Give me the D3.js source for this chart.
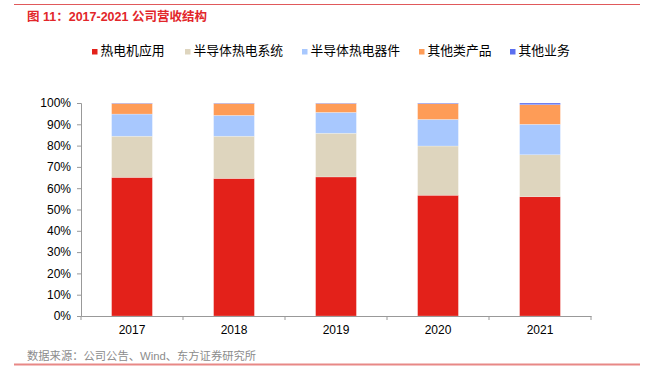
<!DOCTYPE html>
<html lang="zh">
<head>
<meta charset="UTF-8">
<title>2017-2021 公司营收结构</title>
<script src="https://cdn.jsdelivr.net/npm/d3@7/dist/d3.min.js"></script>
<style>
    body { margin: 0; background: #fff; }
    svg { display: block; font-family: "Liberation Sans", Arial, "Noto Sans CJK SC", sans-serif; }
</style>
</head>
<body>
<svg id="chart" width="647" height="374"></svg>
<script>
    // data (shares in %)
    const years = ["2017", "2018", "2019", "2020", "2021"];
    const seriesNames = ["热电机应用", "半导体热电系统", "半导体热电器件", "其他类产品", "其他业务"];
    const thermoMotor = [65.1, 64.6, 65.3, 56.7, 56.0];
    const semiSystem = [19.3, 19.8, 20.5, 23.1, 19.7];
    const semiDevice = [10.4, 9.8, 9.8, 12.5, 14.3];
    const otherProducts = [5.0, 5.6, 4.2, 7.4, 9.2];
    const otherBusiness = [0.2, 0.2, 0.2, 0.3, 0.8];
    const yTicks = [0, 10, 20, 30, 40, 50, 60, 70, 80, 90, 100];

    const colors = ["#e3211a", "#ded5be", "#a8c8fe", "#fe9c57", "#5b6ff0"];
    const allSeries = [thermoMotor, semiSystem, semiDevice, otherProducts, otherBusiness];

    const svg = d3.select("#chart");
    const plotLeft = 81, plotRight = 591, plotTop = 103, plotBottom = 316;

    // header / footer
    svg.append("line").attr("x1", 14).attr("x2", 640).attr("y1", 4.5).attr("y2", 4.5)
        .attr("stroke", "#e0595b").attr("stroke-width", 1);
    svg.append("text").attr("x", 27).attr("y", 20.5)
        .attr("fill", "#e2262a").attr("font-size", 12.5).attr("font-weight", "bold")
        .text("图 11：2017-2021 公司营收结构");
    svg.append("text").attr("x", 27).attr("y", 360)
        .attr("fill", "#8c8c8c").attr("font-size", 11.3)
        .text("数据来源：公司公告、Wind、东方证券研究所");
    svg.append("line").attr("x1", 14).attr("x2", 640).attr("y1", 364.5).attr("y2", 364.5)
        .attr("stroke", "#e88886").attr("stroke-width", 2);

    const rows = years.map((yr, i) => {
        const r = { year: yr };
        seriesNames.forEach((n, j) => r[n] = allSeries[j][i]);
        return r;
    });
    const stacked = d3.stack().keys(seriesNames)(rows);

    const x = d3.scaleBand().domain(years).range([plotLeft, plotRight]).paddingInner(0.6).paddingOuter(0.3);
    const y = d3.scaleLinear().domain([0, 100]).range([plotBottom, plotTop]);

    svg.append("g").selectAll("g")
        .data(stacked)
        .enter().append("g")
        .attr("fill", (d, i) => colors[i])
        .selectAll("rect")
        .data(d => d)
        .enter().append("rect")
        .attr("x", d => x(d.data.year))
        .attr("width", x.bandwidth())
        .attr("y", d => y(d[1]))
        .attr("height", d => y(d[0]) - y(d[1]))
        .attr("stroke", "#fff").attr("stroke-opacity", 0.4).attr("stroke-width", 0.6);

    // y axis
    const yAxis = svg.append("g").attr("transform", `translate(${plotLeft},0)`)
        .call(d3.axisLeft(y).tickValues(yTicks).tickFormat(d => d + "%").tickSize(4).tickPadding(6));
    yAxis.selectAll("text").attr("font-size", 12).attr("fill", "#000");
    yAxis.selectAll("line, path").attr("stroke", "#999");

    // x axis with ticks at category boundaries
    const xAxis = svg.append("g").attr("transform", `translate(0,${plotBottom})`)
        .call(d3.axisBottom(x).tickSize(0).tickPadding(9));
    xAxis.selectAll("text").attr("font-size", 12).attr("fill", "#000");
    xAxis.select("path").attr("stroke", "#999");
    const step = x.step();
    svg.append("g").selectAll("line")
        .data(d3.range(years.length + 1))
        .enter().append("line")
        .attr("x1", i => plotLeft + i * step).attr("x2", i => plotLeft + i * step)
        .attr("y1", plotBottom).attr("y2", plotBottom + 4)
        .attr("stroke", "#999");

    // legend
    const legendX = [92, 185, 302, 419, 510];
    const legend = svg.append("g").selectAll("g")
        .data(seriesNames)
        .enter().append("g")
        .attr("transform", (d, i) => `translate(${legendX[i]},49)`);
    legend.append("rect").attr("x", 0).attr("y", 0).attr("width", 5.5).attr("height", 5.5)
        .attr("fill", (d, i) => colors[i]);
    legend.append("text").attr("x", 8.5).attr("y", 6.3).attr("font-size", 12.8).attr("fill", "#000")
        .text(d => d);
</script>
</body>
</html>
